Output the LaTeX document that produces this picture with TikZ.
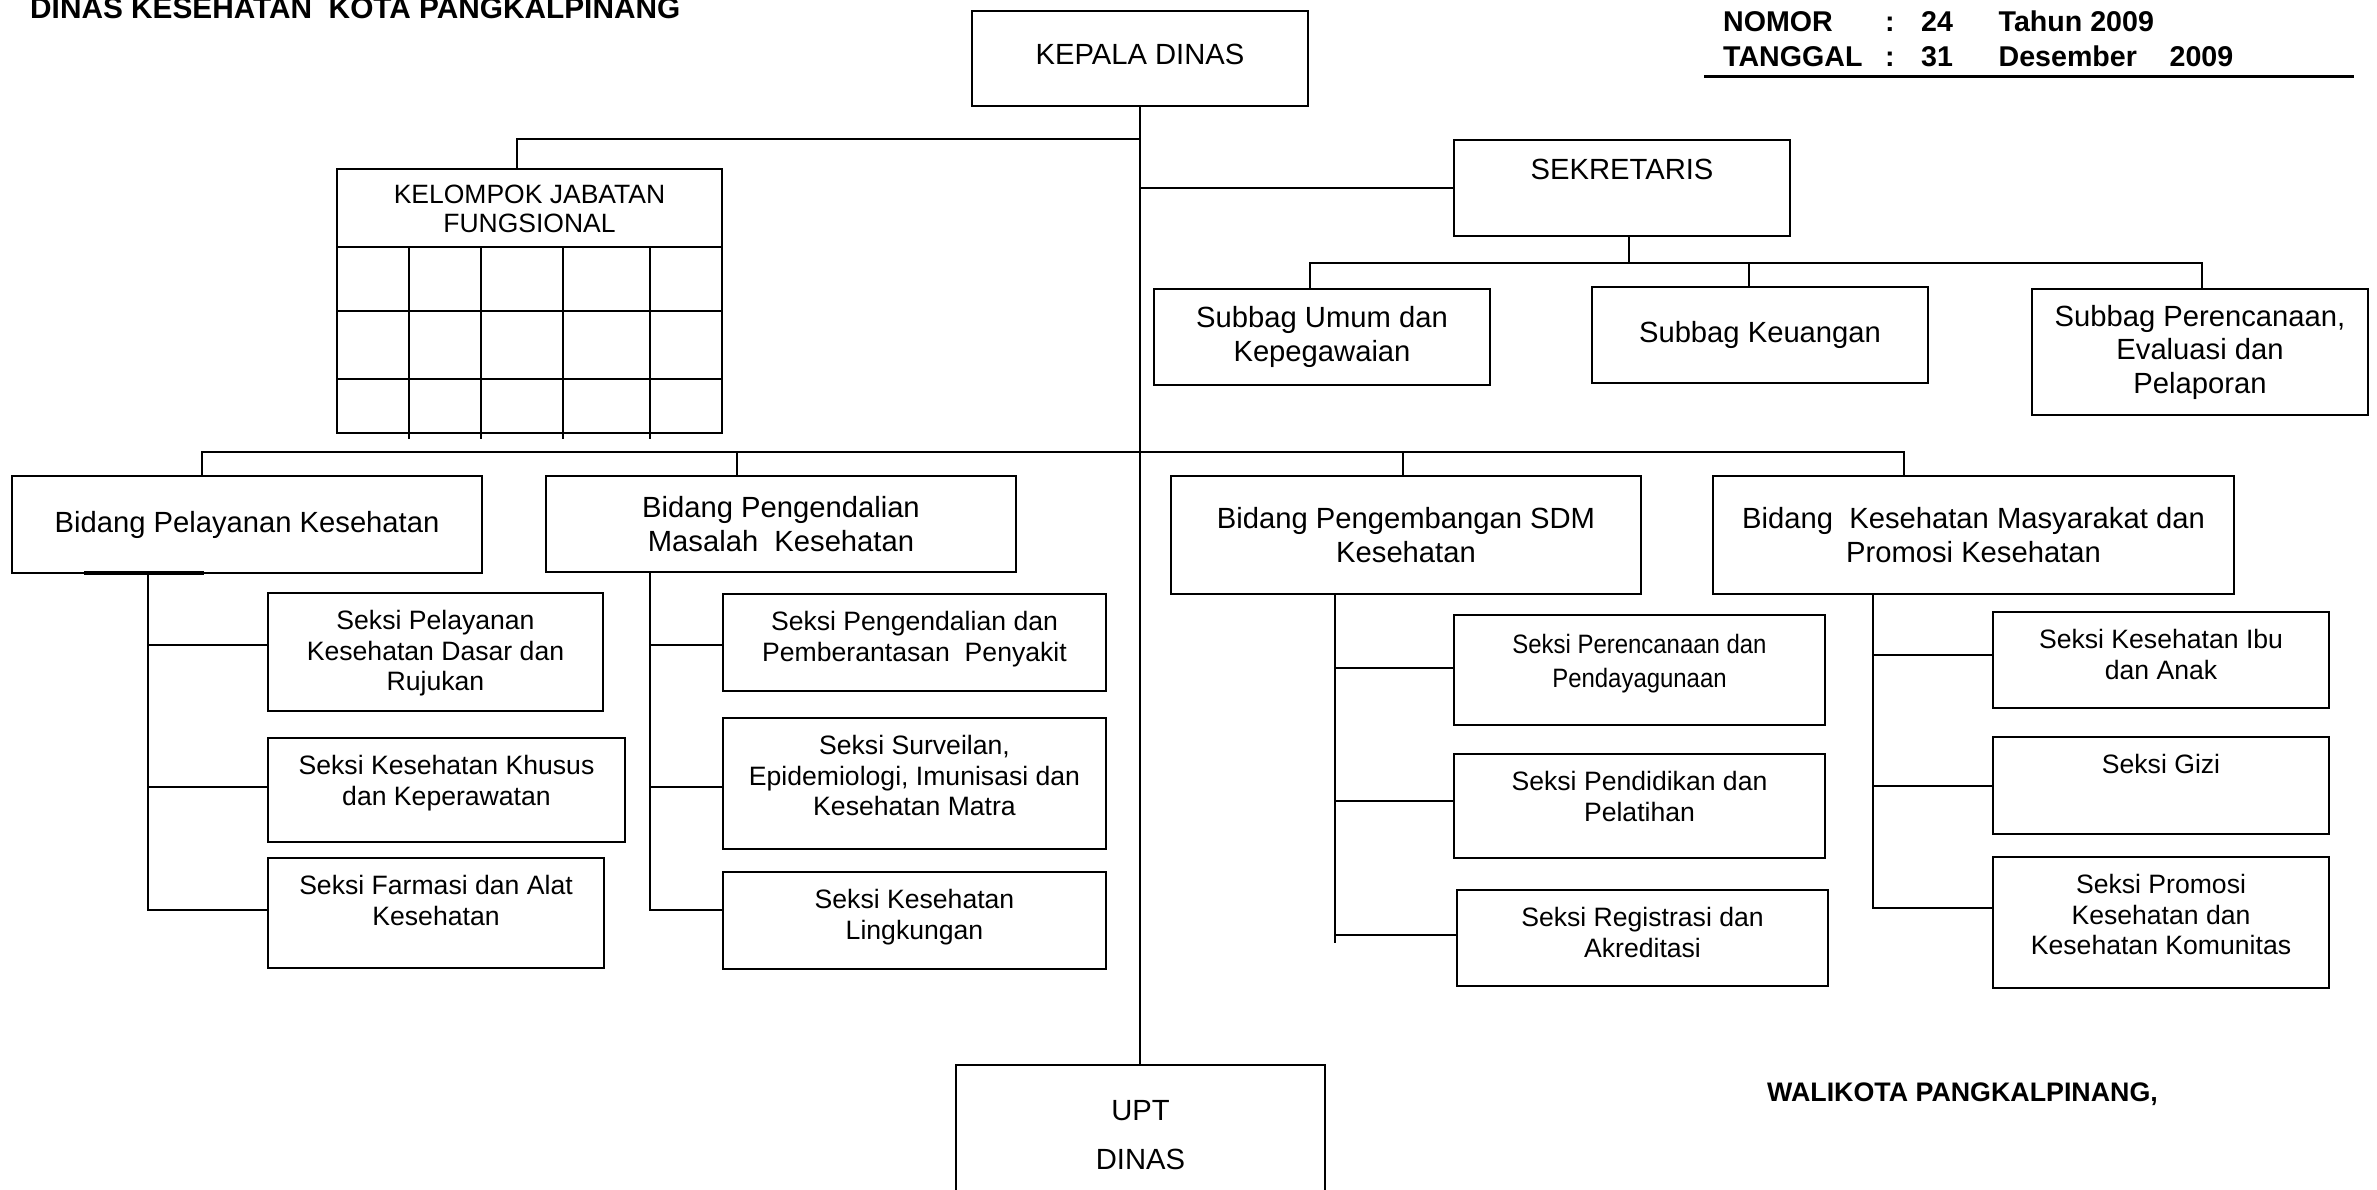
\documentclass[tikz,border=0pt]{standalone}
\usepackage{fontspec}
\setmainfont{Liberation Sans}
\newfontfamily\narrowsans[FakeStretch=0.9]{Liberation Sans}
\begin{document}
\begin{tikzpicture}[x=1pt,y=-1pt,
  box/.style={draw, line width=2pt, inner sep=0pt, outer sep=0pt, align=center, font=\fontsize{29.2}{33.5}\selectfont},
  seksibox/.style={draw, line width=2pt, inner sep=0pt, outer sep=0pt},
  seksitext/.style={anchor=north, inner sep=0pt, align=center, yshift=-17.5pt, font=\fontsize{26.6}{30.5}\selectfont},
  conn/.style={line width=2pt},
  boldtext/.style={inner sep=0pt, anchor=base west, font=\bfseries\fontsize{28.6}{33}\selectfont}]
\clip (0,0) rectangle (2377,1190);
\fill[white] (0,0) rectangle (2377,1190);

% header texts
\node[boldtext, font=\bfseries\fontsize{29.8}{34}\selectfont] (title) at (30,19) {DINAS KESEHATAN~ KOTA PANGKALPINANG};
\node[boldtext] (nomor) at (1723,32) {\makebox[162pt][l]{NOMOR}\makebox[36pt][l]{:}\makebox[77.5pt][l]{24}Tahun 2009};
\node[boldtext] (tanggal) at (1723,67) {\makebox[162pt][l]{TANGGAL}\makebox[36pt][l]{:}\makebox[77.5pt][l]{31}\makebox[171pt][l]{Desember}2009};
\coordinate (ruleL) at (1704,77);
\coordinate (ruleR) at (2354,77);
\draw[line width=3pt] (ruleL) -- (ruleR);
\node[boldtext, font=\bfseries\fontsize{26.8}{30}\selectfont] (walikota) at (1767,1101) {WALIKOTA PANGKALPINANG,};

% top level
\node[seksibox, minimum width=336pt, minimum height=95pt] (kepala) at (1140,58.5) {};
\node[inner sep=0pt, yshift=4.5pt, font=\fontsize{29.2}{33.5}\selectfont] (kepalat) at (kepala.center) {KEPALA DINAS};
\node[seksibox, minimum width=336pt, minimum height=96pt] (sek) at (1622,188) {};
\node[anchor=north, inner sep=0pt, yshift=-18.5pt, font=\fontsize{29.2}{33.5}\selectfont] (sekt) at (sek.north) {SEKRETARIS};
\node[box, minimum width=336pt, minimum height=96pt] (umum) at (1322,337) {Subbag Umum dan\\Kepegawaian};
\node[box, minimum width=336pt, minimum height=96pt] (keu) at (1760,335) {Subbag Keuangan};
\node[box, minimum width=336pt, minimum height=126pt] (peren) at (2200,352) {Subbag Perencanaan,\\Evaluasi dan\\Pelaporan};

% kelompok jabatan fungsional
\node[seksibox, minimum width=385pt, minimum height=264pt] (kjf) at (529.5,301) {};
\node[inner sep=0pt, align=center, font=\fontsize{26.5}{29}\selectfont] (kjft) at (529.5,209) {KELOMPOK JABATAN\\FUNGSIONAL};
\draw[conn] (337,247) -- (722,247);
\draw[conn] (337,311) -- (722,311);
\draw[conn] (337,379) -- (722,379);
\foreach \cx in {409,481,563,650} {\draw[conn] (\cx,247) -- (\cx,439);}

% bidang
\node[box, minimum width=470pt, minimum height=97pt] (bpk) at (247,524.5) {Bidang Pelayanan Kesehatan};
\node[box, minimum width=470pt, minimum height=96pt] (bpm) at (781,524) {Bidang Pengendalian\\Masalah~ Kesehatan};
\node[box, minimum width=470pt, minimum height=118pt] (sdm) at (1406,535) {Bidang Pengembangan SDM\\Kesehatan};
\node[box, minimum width=521pt, minimum height=118pt] (kesmas) at (1973.5,535) {Bidang~ Kesehatan Masyarakat dan\\Promosi Kesehatan};
\draw[line width=3.5pt] (84,573) -- (204,573);

% seksi boxes
\node[seksibox, minimum width=335pt, minimum height=118pt] (s1) at (435.5,652) {};
\node[seksitext] (s1t) at (s1.north) {Seksi Pelayanan\\Kesehatan Dasar dan\\Rujukan};
\node[seksibox, minimum width=357pt, minimum height=104pt] (s2) at (446.5,790) {};
\node[seksitext] (s2t) at (s2.north) {Seksi Kesehatan Khusus\\dan Keperawatan};
\node[seksibox, minimum width=336pt, minimum height=110pt] (s3) at (436,913) {};
\node[seksitext] (s3t) at (s3.north) {Seksi Farmasi dan Alat\\Kesehatan};

\node[seksibox, minimum width=383pt, minimum height=97pt] (s4) at (914.5,642.5) {};
\node[seksitext] (s4t) at (s4.north) {Seksi Pengendalian dan\\Pemberantasan~ Penyakit};
\node[seksibox, minimum width=383pt, minimum height=131pt] (s5) at (914.5,783.5) {};
\node[seksitext] (s5t) at (s5.north) {Seksi Surveilan,\\Epidemiologi, Imunisasi dan\\Kesehatan Matra};
\node[seksibox, minimum width=383pt, minimum height=97pt] (s6) at (914.5,920.5) {};
\node[seksitext] (s6t) at (s6.north) {Seksi Kesehatan\\Lingkungan};

\node[seksibox, minimum width=371pt, minimum height=110pt] (s7) at (1639.5,670) {};
\node[seksitext, yshift=-1.5pt, font=\narrowsans\fontsize{26.6}{34}\selectfont] (s7t) at (s7.north) {Seksi Perencanaan dan\\Pendayagunaan};
\node[seksibox, minimum width=371pt, minimum height=104pt] (s8) at (1639.5,806) {};
\node[seksitext] (s8t) at (s8.north) {Seksi Pendidikan dan\\Pelatihan};
\node[seksibox, minimum width=371pt, minimum height=96pt] (s9) at (1642.5,938) {};
\node[seksitext] (s9t) at (s9.north) {Seksi Registrasi dan\\Akreditasi};

\node[seksibox, minimum width=336pt, minimum height=96pt] (s10) at (2161,660) {};
\node[seksitext] (s10t) at (s10.north) {Seksi Kesehatan Ibu\\dan Anak};
\node[seksibox, minimum width=336pt, minimum height=97pt] (s11) at (2161,785.5) {};
\node[seksitext] (s11t) at (s11.north) {Seksi Gizi};
\node[seksibox, minimum width=336pt, minimum height=131pt] (s12) at (2161,922.5) {};
\node[seksitext] (s12t) at (s12.north) {Seksi Promosi\\Kesehatan dan\\Kesehatan Komunitas};

% UPT
\node[box, minimum width=369pt, minimum height=141pt, font=\fontsize{29.2}{49}\selectfont] (upt) at (1140.5,1135.5) {UPT\\DINAS};

% connectors: trunk
\draw[conn] (kepala.south) -- (upt.north -| kepala.south);
\coordinate (jk) at (517,139);
\draw[conn] (jk -| kepala.south) -- (jk) -- (jk |- kjf.north);
\draw[conn] (sek.west -| kepala.south) -- (sek.west);

% sekretaris to subbag
\coordinate (sbm) at (1629,263);
\coordinate (sbl) at (1310,263);
\coordinate (sbk) at (1749,263);
\coordinate (sbr) at (2202,263);
\draw[conn] (sek.south -| sbm) -- (sbm);
\draw[conn] (sbl |- umum.north) -- (sbl) -- (sbr) -- (sbr |- peren.north);
\draw[conn] (sbk) -- (sbk |- keu.north);

% bidang bar
\coordinate (bb1) at (202,452);
\coordinate (bb2) at (737,452);
\coordinate (bb3) at (1403,452);
\coordinate (bb4) at (1904,452);
\draw[conn] (bb1 |- bpk.north) -- (bb1) -- (bb4) -- (bb4 |- kesmas.north);
\draw[conn] (bb2) -- (bb2 |- bpm.north);
\draw[conn] (bb3) -- (bb3 |- sdm.north);

% branch: pelayanan
\coordinate (c1) at (148,645);
\coordinate (c2) at (148,787);
\coordinate (c3) at (148,910);
\draw[conn] (bpk.south -| c3) -- (c3) -- (c3 -| s3.west);
\draw[conn] (c1) -- (c1 -| s1.west);
\draw[conn] (c2) -- (c2 -| s2.west);

% branch: pengendalian
\coordinate (c4) at (650,645);
\coordinate (c5) at (650,787);
\coordinate (c6) at (650,910);
\draw[conn] (bpm.south -| c6) -- (c6) -- (c6 -| s6.west);
\draw[conn] (c4) -- (c4 -| s4.west);
\draw[conn] (c5) -- (c5 -| s5.west);

% branch: SDM
\coordinate (c7) at (1335,668);
\coordinate (c8) at (1335,801);
\coordinate (c9) at (1335,935);
\coordinate (c9end) at (1335,943);
\draw[conn] (sdm.south -| c9end) -- (c9end);
\draw[conn] (c7) -- (c7 -| s7.west);
\draw[conn] (c8) -- (c8 -| s8.west);
\draw[conn] (c9) -- (c9 -| s9.west);

% branch: kesmas
\coordinate (c10) at (1873,655);
\coordinate (c11) at (1873,786);
\coordinate (c12) at (1873,908);
\draw[conn] (kesmas.south -| c12) -- (c12) -- (c12 -| s12.west);
\draw[conn] (c10) -- (c10 -| s10.west);
\draw[conn] (c11) -- (c11 -| s11.west);
\end{tikzpicture}
\end{document}
